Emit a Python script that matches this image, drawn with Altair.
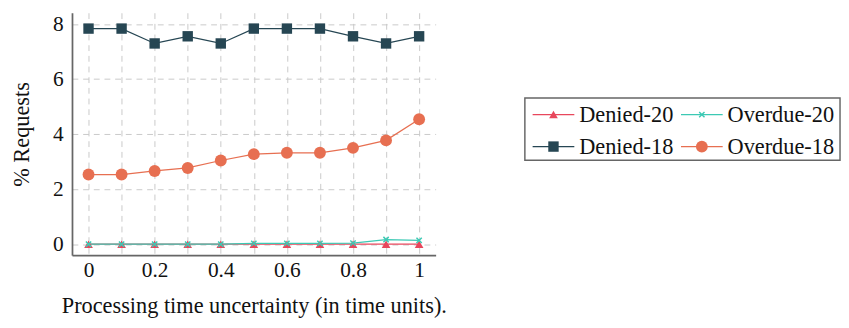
import altair as alt
import pandas as pd

# ---- data ----
x_vals = [0, 0.1, 0.2, 0.3, 0.4, 0.5, 0.6, 0.7, 0.8, 0.9, 1.0]
denied_20 = [0, 0, 0, 0, 0, 0, 0, 0, 0, 0, 0]
overdue_20 = [0, 0, 0, 0, 0, 0.03, 0.03, 0.03, 0.04, 0.17, 0.14]
denied_18 = [7.83, 7.83, 7.29, 7.55, 7.29, 7.83, 7.83, 7.83, 7.55, 7.29, 7.55]
overdue_18 = [2.53, 2.53, 2.66, 2.77, 3.04, 3.27, 3.32, 3.32, 3.50, 3.77, 4.54]

series_names = ["Denied-20", "Overdue-20", "Denied-18", "Overdue-18"]
series_values = [denied_20, overdue_20, denied_18, overdue_18]
series_colors = ["#e8475c", "#3cc9b4", "#264653", "#e76f51"]
series_shapes = ["triangle-up", "M-1,-1L1,1M-1,1L1,-1", "square", "circle"]

x_title = "Processing time uncertainty (in time units)."
y_title = "% Requests"

FONT = "Liberation Serif"
FS = 22
TFS = 23
LFS = 23

rows = []
for name, vals in zip(series_names, series_values):
    for xv, yv in zip(x_vals, vals):
        rows.append({"x": xv, "y": yv, "series": name})
df = pd.DataFrame(rows)

color_scale = alt.Scale(domain=series_names, range=series_colors)
shape_scale = alt.Scale(domain=series_names, range=series_shapes)
size_scale = alt.Scale(domain=["Denied-20", "Denied-18", "Overdue-18"], range=[80, 150, 130])

H = 250

xenc = alt.X("x:Q", scale=alt.Scale(domain=[-0.05, 1.05], nice=False, zero=False),
             axis=alt.Axis(values=x_vals, title=x_title, ticks=False,
                           labelExpr="round(datum.value*10) % 2 == 0 ? format(datum.value, '~g') : ''",
                           labelPadding=5, titlePadding=15))
yenc = alt.Y("y:Q", scale=alt.Scale(domain=[-0.398, 8.405], nice=False, zero=False),
             axis=alt.Axis(values=[0, 2, 4, 6, 8], title=y_title, ticks=False,
                           labelPadding=9, titlePadding=20))

base = alt.Chart(df).encode(
    x=xenc, y=yenc,
    color=alt.Color("series:N", scale=color_scale, legend=None),
)

lines = base.mark_line(strokeWidth=1.3).encode(
    order=alt.Order("x:Q"), detail="series:N"
)
filled = base.transform_filter(alt.datum.series != "Overdue-20").mark_point(
    filled=True, opacity=1
).encode(
    shape=alt.Shape("series:N", scale=shape_scale, legend=None),
    size=alt.Size("series:N", scale=size_scale, legend=None),
)
crosses = base.transform_filter(alt.datum.series == "Overdue-20").mark_point(
    shape="M-1,-1L1,1M-1,1L1,-1", filled=False, size=30, strokeWidth=1.5, opacity=1
)

main = alt.layer(lines, filled, crosses).properties(width=375, height=H)

# ---- hand-built legend (two columns, line + marker) ----
leg_rows = []
col_offsets = [0, 153]
row_offsets = [105, 138]
for i, name in enumerate(series_names):
    c = i % 2
    r = i // 2
    ox = col_offsets[c]
    leg_rows.append({"series": name, "lx0": 8 + ox, "lx1": 51 + ox, "mx": 29.5 + ox,
                     "tx": 56 + ox, "ly": row_offsets[r]})
leg_df = pd.DataFrame(leg_rows)

lx = alt.Scale(domain=[0, 326], nice=False, zero=False)
ly = alt.Scale(domain=[0, H], nice=False, zero=False, reverse=True)

lbase = alt.Chart(leg_df).encode(
    y=alt.Y("ly:Q", scale=ly, axis=None),
    color=alt.Color("series:N", scale=color_scale, legend=None),
)
box = alt.Chart(pd.DataFrame({"x0": [0], "x1": [325], "y0": [88], "y1": [152]})).mark_rect(
    fill="white", stroke="#666666", strokeWidth=1.5
).encode(
    x=alt.X("x0:Q", scale=lx, axis=None), x2="x1:Q",
    y=alt.Y("y0:Q", scale=ly, axis=None), y2="y1:Q",
)
lrules = lbase.mark_rule(strokeWidth=1.3).encode(
    x=alt.X("lx0:Q", scale=lx, axis=None), x2="lx1:Q"
)
lpoints = lbase.transform_filter(alt.datum.series != "Overdue-20").mark_point(
    filled=True, opacity=1
).encode(
    x=alt.X("mx:Q", scale=lx, axis=None),
    shape=alt.Shape("series:N", scale=shape_scale, legend=None),
    size=alt.Size("series:N", scale=size_scale, legend=None),
)
lcross = lbase.transform_filter(alt.datum.series == "Overdue-20").mark_point(
    shape="M-1,-1L1,1M-1,1L1,-1", filled=False, size=30, strokeWidth=1.5, opacity=1
).encode(x=alt.X("mx:Q", scale=lx, axis=None))
ltext = alt.Chart(leg_df).mark_text(
    align="left", baseline="middle", font=FONT, fontSize=LFS, color="#111111", dy=1
).encode(
    x=alt.X("tx:Q", scale=lx, axis=None),
    y=alt.Y("ly:Q", scale=ly, axis=None),
    text="series:N",
)
legend = alt.layer(box, lrules, lpoints, lcross, ltext).properties(width=326, height=H)

chart = alt.hconcat(main, legend, spacing=79).properties(
    padding={"left": 3, "top": 0, "right": 0, "bottom": 0}
).configure_view(stroke=None).configure_axis(
    labelFont=FONT, titleFont=FONT, labelFontSize=FS, titleFontSize=TFS,
    labelColor="#111111", titleColor="#111111", titleFontWeight="normal",
    domainColor="#666666", domainWidth=1.8,
    gridColor="#c8c8c8", gridDash=[6, 5], gridWidth=1,
)

chart.save("out.html", embed_options={"renderer": "svg", "actions": False})
